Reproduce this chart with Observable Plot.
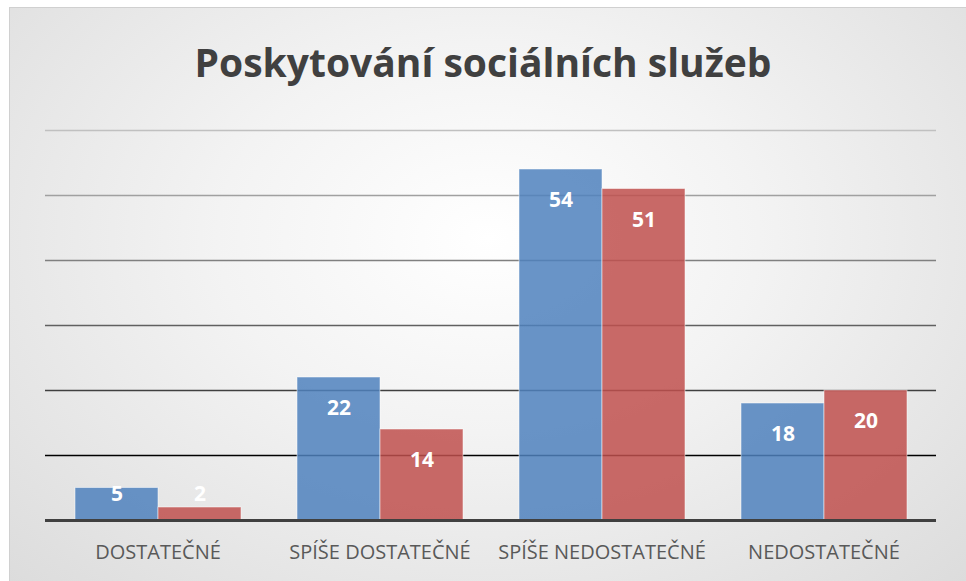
<!DOCTYPE html>
<html><head><meta charset="utf-8">
<script src="https://cdn.jsdelivr.net/npm/d3@7"></script>
<script src="https://cdn.jsdelivr.net/npm/@observablehq/plot@0.6"></script>
<style>
html,body{margin:0;padding:0;background:#fff;width:966px;height:581px;overflow:hidden;}
#wrap{position:absolute;left:9px;top:7px;width:957px;height:574px;border-left:1px solid #d0d0d0;border-top:1px solid #d0d0d0;
 background:radial-gradient(ellipse at 50% 40%, #ffffff 0%, #f3f3f3 40%, #dcdcdc 100%);}
#title{position:absolute;left:0;top:42px;width:966px;text-align:center;font-family:"Open Sans",sans-serif;font-weight:700;font-size:39px;line-height:39px;color:#404040;}
.layer{position:absolute;left:0;top:90px;}
</style>
</head><body>
<div id="wrap"></div>
<div id="title">Poskytování sociálních služeb</div>
<div id="grid" class="layer"></div>
<div id="bars" class="layer"></div>
<div id="base" class="layer"></div>
<script>
const categories = ["DOSTATEČNÉ", "SPÍŠE DOSTATEČNÉ", "SPÍŠE NEDOSTATEČNÉ", "NEDOSTATEČNÉ"];
const seriesNames = ["Řada 1", "Řada 2"];
const series1 = [5, 22, 54, 18];
const series2 = [2, 14, 51, 20];
const gridValues = [10, 20, 30, 40, 50, 60];

const data = [];
categories.forEach((c, i) => {
  data.push({category: c, series: seriesNames[0], value: series1[i]});
  data.push({category: c, series: seriesNames[1], value: series2[i]});
});
const gridColor = d3.scaleLinear().domain([10, 20, 60]).range(["#000000", "#404040", "#c0c0c0"]);

const common = {
  width: 966,
  height: 491,
  marginTop: 40,
  marginBottom: 61,
  marginLeft: 45,
  marginRight: 30,
  style: {background: "transparent", fontFamily: "'Open Sans', sans-serif"},
  y: {domain: [0, 60], axis: null}
};

const gridPlot = Plot.plot({
  ...common,
  x: {domain: [0, 1], axis: null},
  marks: [
    Plot.ruleY(gridValues, {y: d => d, stroke: d => gridColor(d), strokeWidth: 1.5})
  ]
});

const barPlot = Plot.plot({
  ...common,
  fx: {domain: categories, paddingInner: 0.25, paddingOuter: 0.125, label: null},
  x: {domain: seriesNames, padding: 0, axis: null},
  color: {domain: seriesNames, range: ["#4f81bd", "#c0504d"]},
  marks: [
    Plot.axisFx({anchor: "bottom", tickSize: 0, tickPadding: 24, fontSize: 20, fill: "#595959", label: null}),
    Plot.barY(data, {fx: "category", x: "series", y: "value", fill: "series", fillOpacity: 0.85, stroke: "#ffffff", strokeOpacity: 0.5, strokeWidth: 1}),
    Plot.text(data, {fx: "category", x: "series", y: d => Math.max(d.value, 8.8), dy: 31, text: d => String(d.value), fill: "#ffffff", fontWeight: 700, fontSize: 21})
  ]
});

const basePlot = Plot.plot({
  ...common,
  x: {domain: [0, 1], axis: null},
  marks: [
    Plot.ruleY([0], {stroke: "#404040", strokeWidth: 3})
  ]
});

document.getElementById("grid").appendChild(gridPlot);
document.getElementById("bars").appendChild(barPlot);
document.getElementById("base").appendChild(basePlot);
</script>
</body></html>
